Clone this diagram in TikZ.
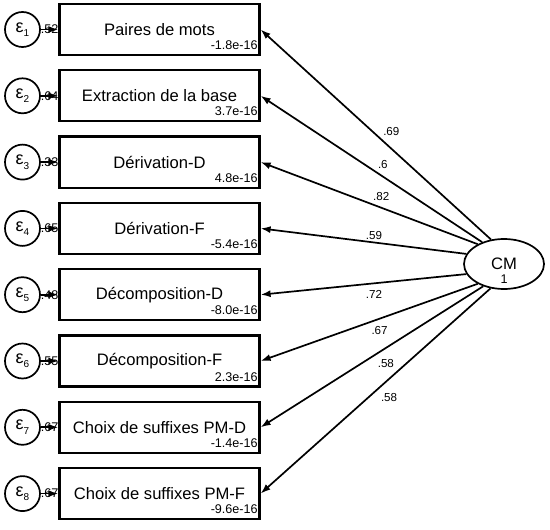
\documentclass[tikz,border=0pt]{standalone}
\usepackage{fontspec}
\setmainfont{Liberation Sans}
\usetikzlibrary{shapes.geometric,arrows.meta}

% Indice des erreurs
\newcommand{\epsi}[1]{ε\raisebox{-2.2pt}{\fontsize{5}{6}\selectfont #1}}

\begin{document}
\begin{tikzpicture}[x=0.5pt,y=-0.5pt,
  mbox/.style={draw, line width=1.1pt, minimum width=100pt, minimum height=25.5pt, inner sep=0pt, font=\fontsize{8.3}{10}\selectfont},
  errc/.style={draw, circle, line width=0.85pt, minimum size=17.5pt, inner sep=0pt, font=\fontsize{9}{10}\selectfont},
  icpt/.style={anchor=south east, inner sep=0pt, font=\fontsize{6.3}{7.5}\selectfont},
  evar/.style={inner sep=0pt, font=\fontsize{6.3}{7.5}\selectfont},
  load/.style={font=\fontsize{5.8}{7}\selectfont},
  arr/.style={line width=0.85pt, -{Latex[length=5pt,width=3.5pt]}}]

% Cadre
\useasboundingbox (0,0) rectangle (550,529);

% Facteur latent
\node[draw, ellipse, line width=0.85pt, minimum width=40pt, minimum height=25pt, inner sep=0pt, font=\fontsize{8.3}{10}\selectfont] (CM) at (504,264) {CM};
\node[evar] (CMvar) at (504,279) {1};

% Indicateurs
\node[mbox] (pm) at (159.5,29.5) {Paires de mots};
\node[mbox] (eb) at (159.5,95.8) {Extraction de la base};
\node[mbox] (dd) at (159.5,162.1) {Dérivation-D};
\node[mbox] (df) at (159.5,228.4) {Dérivation-F};
\node[mbox] (cd) at (159.5,294.7) {Décomposition-D};
\node[mbox] (cf) at (159.5,361.0) {Décomposition-F};
\node[mbox] (sd) at (159.5,427.3) {Choix de suffixes PM-D};
\node[mbox] (sf) at (159.5,493.6) {Choix de suffixes PM-F};

% Constantes
\node[icpt] (i1) at ([xshift=-1.25pt,yshift=3pt]pm.south east) {-1.8e-16};
\node[icpt] (i2) at ([xshift=-1.25pt,yshift=3pt]eb.south east) {3.7e-16};
\node[icpt] (i3) at ([xshift=-1.25pt,yshift=3pt]dd.south east) {4.8e-16};
\node[icpt] (i4) at ([xshift=-1.25pt,yshift=3pt]df.south east) {-5.4e-16};
\node[icpt] (i5) at ([xshift=-1.25pt,yshift=3pt]cd.south east) {-8.0e-16};
\node[icpt] (i6) at ([xshift=-1.25pt,yshift=3pt]cf.south east) {2.3e-16};
\node[icpt] (i7) at ([xshift=-1.25pt,yshift=3pt]sd.south east) {-1.4e-16};
\node[icpt] (i8) at ([xshift=-1.25pt,yshift=3pt]sf.south east) {-9.6e-16};

% Erreurs
\node[errc] (e1) at (22.5,29.5) {\epsi{1}};
\node[errc] (e2) at (22.5,95.8) {\epsi{2}};
\node[errc] (e3) at (22.5,162.1) {\epsi{3}};
\node[errc] (e4) at (22.5,228.4) {\epsi{4}};
\node[errc] (e5) at (22.5,294.7) {\epsi{5}};
\node[errc] (e6) at (22.5,361.0) {\epsi{6}};
\node[errc] (e7) at (22.5,427.3) {\epsi{7}};
\node[errc] (e8) at (22.5,493.6) {\epsi{8}};

\draw[arr] (e1) -- node[evar] {.52} (pm);
\draw[arr] (e2) -- node[evar] {.64} (eb);
\draw[arr] (e3) -- node[evar] {.33} (dd);
\draw[arr] (e4) -- node[evar] {.65} (df);
\draw[arr] (e5) -- node[evar] {.48} (cd);
\draw[arr] (e6) -- node[evar] {.55} (cf);
\draw[arr] (e7) -- node[evar] {.67} (sd);
\draw[arr] (e8) -- node[evar] {.67} (sf);

% Saturations
\draw[arr] (CM.118) -- node[load, pos=0.48, above right, inner sep=1pt] {.69} (pm.east);
\draw[arr] (CM.135) -- node[load, pos=0.483, above right, inner sep=1pt] {.6} (eb.east);
\draw[arr] (CM.143) -- node[load, pos=0.495, above right, inner sep=1pt] {.82} (dd.east);
\draw[arr] (CM.165) -- node[load, pos=0.449, above, inner sep=1pt] {.59} (df.east);
\draw[arr] (CM.195) -- node[load, pos=0.449, below, inner sep=3pt] {.72} (cd.east);
\draw[arr] (CM.217) -- node[load, pos=0.507, below right, inner sep=1.5pt] {.67} (cf.east);
\draw[arr] (CM.227) -- node[load, pos=0.491, below right, inner sep=1.5pt] {.58} (sd.east);
\draw[arr] (CM.241) -- node[load, pos=0.493, below right, inner sep=1.5pt] {.58} (sf.east);
\end{tikzpicture}
\end{document}
